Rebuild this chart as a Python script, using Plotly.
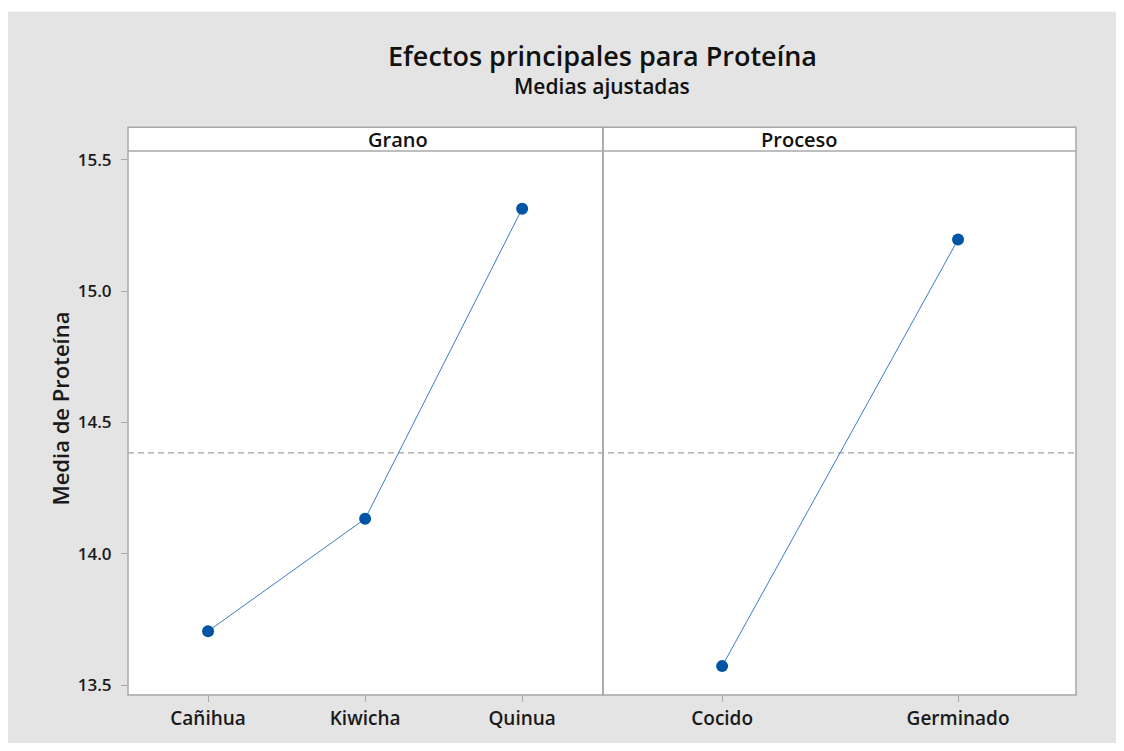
import plotly.graph_objects as go
from plotly.subplots import make_subplots

# fitted means
grano_levels = ["Cañihua", "Kiwicha", "Quinua"]
grano_means = [13.705, 14.133, 15.314]
proceso_levels = ["Cocido", "Germinado"]
proceso_means = [13.572, 15.197]
overall_mean = 14.384

panel_names = ["Grano", "Proceso"]
y_ticks = [13.5, 14.0, 14.5, 15.0, 15.5]

BLUE_MARK = "#0054a6"
BLUE_LINE = "#3c7cc8"
BORDER = "#a8a8a8"
BG = "#e4e4e4"
FONT = "Open Sans"

# page body has an 8px margin, so the figure is sized to fit inside the window
W, H = 1116, 735
L, R, T, B = 120, 48, 143, 45
plot_w = W - L - R
plot_h = H - T - B
strip_h = 24 / plot_h
split = 475 / plot_w

fig = make_subplots(
    rows=1, cols=2, shared_yaxes=True, horizontal_spacing=0,
    column_widths=[475, plot_w - 475],
)

for col, (lv, mv) in enumerate([(grano_levels, grano_means), (proceso_levels, proceso_means)], start=1):
    fig.add_trace(
        go.Scatter(
            x=lv, y=mv, mode="lines+markers",
            line=dict(color=BLUE_LINE, width=1),
            marker=dict(color=BLUE_MARK, size=12),
            showlegend=False, hoverinfo="x+y",
        ),
        row=1, col=col,
    )

fig.update_xaxes(
    type="category", ticks="outside", ticklen=6, tickcolor=BORDER, tickwidth=1,
    showgrid=False, zeroline=False, showline=False,
    tickfont=dict(family=FONT, size=19, color="#1a1a1a", weight=600),
)
fig.update_xaxes(range=[-0.51, 2.515], row=1, col=1)
fig.update_xaxes(range=[-0.505, 1.5], row=1, col=2)
fig.update_yaxes(
    range=[13.462, 15.534], tickvals=y_ticks, ticktext=[f"{v:.1f}" for v in y_ticks],
    ticks="outside", ticklen=6, tickcolor=BORDER, tickwidth=1, ticklabelstandoff=6,
    showgrid=False, zeroline=False, showline=False,
    tickfont=dict(family=FONT, size=17, color="#1a1a1a", weight=600),
)
fig.update_yaxes(ticks="", row=1, col=2)

shapes = [
    # grey page with thin white margin at top/left
    dict(type="rect", xref="paper", yref="paper", layer="below",
         x0=(-4 - L) / plot_w, x1=(W + 10 - L) / plot_w,
         y0=-(B + 10) / plot_h, y1=(plot_h + T - 3) / plot_h,
         fillcolor=BG, line=dict(width=0)),
    # white panel area
    dict(type="rect", xref="paper", yref="paper", layer="below",
         x0=0, x1=1, y0=0, y1=1 + strip_h, fillcolor="white", line=dict(width=0)),
]
# reference line at overall mean
shapes.append(dict(type="line", xref="paper", yref="y", x0=0, x1=1,
                   y0=overall_mean, y1=overall_mean, layer="below",
                   line=dict(color="#a0a0a0", width=1.2, dash="6px,4px")))
# panel borders and strip separators
for x0, x1 in [(0, split), (split, 1)]:
    shapes.append(dict(type="rect", xref="paper", yref="paper", x0=x0, x1=x1,
                       y0=0, y1=1 + strip_h, line=dict(color=BORDER, width=1.5)))
    shapes.append(dict(type="line", xref="paper", yref="paper", x0=x0, x1=x1,
                       y0=1, y1=1, line=dict(color=BORDER, width=1.5)))
fig.update_layout(shapes=shapes)

annotations = [
    dict(text="Efectos principales para Proteína", xref="paper", yref="paper",
         x=0.5, y=(plot_h + T - 47) / plot_h, yanchor="middle", showarrow=False,
         font=dict(family=FONT, size=27, color="#111111", weight=600)),
    dict(text="Medias ajustadas", xref="paper", yref="paper",
         x=0.5, y=(plot_h + T - 78) / plot_h, yanchor="middle", showarrow=False,
         font=dict(family=FONT, size=21, color="#111111", weight=600)),
    dict(text="Media de Proteína", xref="paper", yref="paper",
         x=(52 - L) / plot_w, y=(H - B - 402) / plot_h, textangle=-90,
         xanchor="center", yanchor="middle", showarrow=False,
         font=dict(family=FONT, size=22, color="#1a1a1a", weight=600)),
]
for name, (x0, x1) in zip(panel_names, [(0, split), (split, 1)]):
    annotations.append(dict(text=name, xref="paper", yref="paper",
                            x=(x0 + x1) / 2, y=1 + strip_h / 2, yanchor="middle",
                            showarrow=False,
                            font=dict(family=FONT, size=20, color="#111111", weight=600)))
fig.update_layout(annotations=annotations)

fig.update_layout(
    width=W, height=H,
    margin=dict(l=L, r=R, t=T, b=B),
    paper_bgcolor="white",
    plot_bgcolor="rgba(0,0,0,0)",
    font=dict(family=FONT),
)

fig.write_html("out.html")
